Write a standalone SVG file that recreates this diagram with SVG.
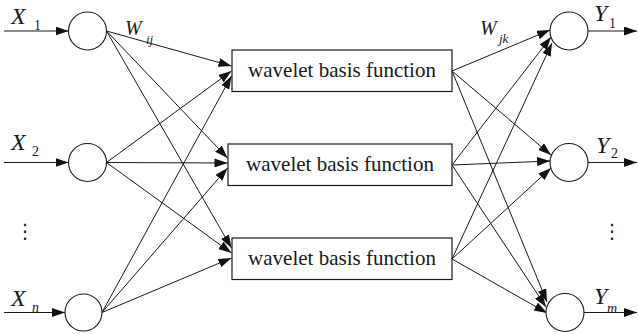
<svg xmlns="http://www.w3.org/2000/svg" width="638" height="334" viewBox="0 0 638 334">
<style>
.n{fill:#fff;stroke:#1a1a1a;stroke-width:1.1}
.b{fill:#fff;stroke:#1a1a1a;stroke-width:1.2}
.c line{stroke:#1a1a1a;stroke-width:1;marker-end:url(#ah)}
.t{font-family:"Liberation Serif","Times New Roman",serif;fill:#1a1a1a}
.lb{font-size:21px}
.v{font-style:italic;font-size:24px}
.w{font-style:italic;font-size:20px}
.s{font-size:14px}
.si{font-size:14px;font-style:italic}
.sw{font-size:13px;font-style:italic}
.d{font-family:"DejaVu Sans",sans-serif;font-size:20px;fill:#1a1a1a}
</style>
<defs>
<marker id="ah" markerUnits="userSpaceOnUse" markerWidth="13" markerHeight="9" viewBox="0 0 13 9" refX="13" refY="4.5" orient="auto">
<path d="M0,0 L13,4.5 L0,9 z" fill="#111"/>
</marker>
</defs>
<g id="connectors" class="c">
<line x1="4" y1="31" x2="68.5" y2="31"/>
<line x1="4" y1="162.5" x2="68.5" y2="162.5"/>
<line x1="4" y1="312.5" x2="65" y2="312.5"/>
<line x1="106.5" y1="31" x2="231.5" y2="66"/>
<line x1="106.5" y1="31" x2="227.5" y2="158"/>
<line x1="106.5" y1="31" x2="231.5" y2="248"/>
<line x1="106.5" y1="162.5" x2="231.5" y2="71"/>
<line x1="106.5" y1="162.5" x2="227.5" y2="163"/>
<line x1="106.5" y1="162.5" x2="231.5" y2="253"/>
<line x1="102" y1="312.5" x2="231.5" y2="76"/>
<line x1="102" y1="312.5" x2="227.5" y2="168"/>
<line x1="102" y1="312.5" x2="231.5" y2="258"/>
<line x1="452" y1="71" x2="550" y2="30"/>
<line x1="452" y1="71" x2="551" y2="155"/>
<line x1="452" y1="71" x2="547" y2="302"/>
<line x1="452" y1="165" x2="551" y2="37"/>
<line x1="452" y1="165" x2="550" y2="161"/>
<line x1="452" y1="165" x2="546" y2="307"/>
<line x1="452" y1="259" x2="552" y2="43"/>
<line x1="452" y1="259" x2="551" y2="168"/>
<line x1="452" y1="259" x2="547" y2="313"/>
<line x1="588" y1="31" x2="637" y2="31"/>
<line x1="588" y1="162.5" x2="637" y2="162.5"/>
<line x1="584" y1="312.5" x2="637" y2="312.5"/>
</g>
<g id="x1"><circle class="n" cx="87.5" cy="31" r="19"/></g>
<g id="x2"><circle class="n" cx="87.5" cy="162.5" r="19"/></g>
<g id="xn"><circle class="n" cx="83.5" cy="312.5" r="18.5"/></g>
<g id="wbf1"><rect class="b" x="232" y="50" width="220" height="41.5"/><text class="t lb" x="342" y="77" text-anchor="middle">wavelet basis function</text></g>
<g id="wbf2"><rect class="b" x="228" y="144" width="224" height="41.5"/><text class="t lb" x="340" y="171" text-anchor="middle">wavelet basis function</text></g>
<g id="wbf3"><rect class="b" x="232" y="238" width="220" height="41.5"/><text class="t lb" x="342" y="265" text-anchor="middle">wavelet basis function</text></g>
<g id="y1"><circle class="n" cx="569" cy="31" r="19"/></g>
<g id="y2"><circle class="n" cx="569" cy="162.5" r="19"/></g>
<g id="ym"><circle class="n" cx="565" cy="312.5" r="19"/></g>
<g id="labels">
<text class="t v" x="11" y="24">X</text><text class="t s" x="34" y="30">1</text>
<text class="t v" x="11" y="150">X</text><text class="t s" x="32" y="156">2</text>
<text class="t v" x="11" y="306">X</text><text class="t si" x="32" y="312">n</text>
<text class="t w" x="125" y="35">W</text><text class="t sw" x="146" y="44">ij</text>
<text class="t w" x="480" y="35">W</text><text class="t sw" x="499" y="43">jk</text>
<text class="t v" x="594" y="21">Y</text><text class="t s" x="609" y="28">1</text>
<text class="t v" x="596" y="153">Y</text><text class="t s" x="611" y="158">2</text>
<text class="t v" x="594" y="304">Y</text><text class="t si" x="607" y="313">m</text>
<text class="d" x="25" y="238" text-anchor="middle">⋮</text>
<text class="d" x="612" y="238" text-anchor="middle">⋮</text>
</g>
</svg>
